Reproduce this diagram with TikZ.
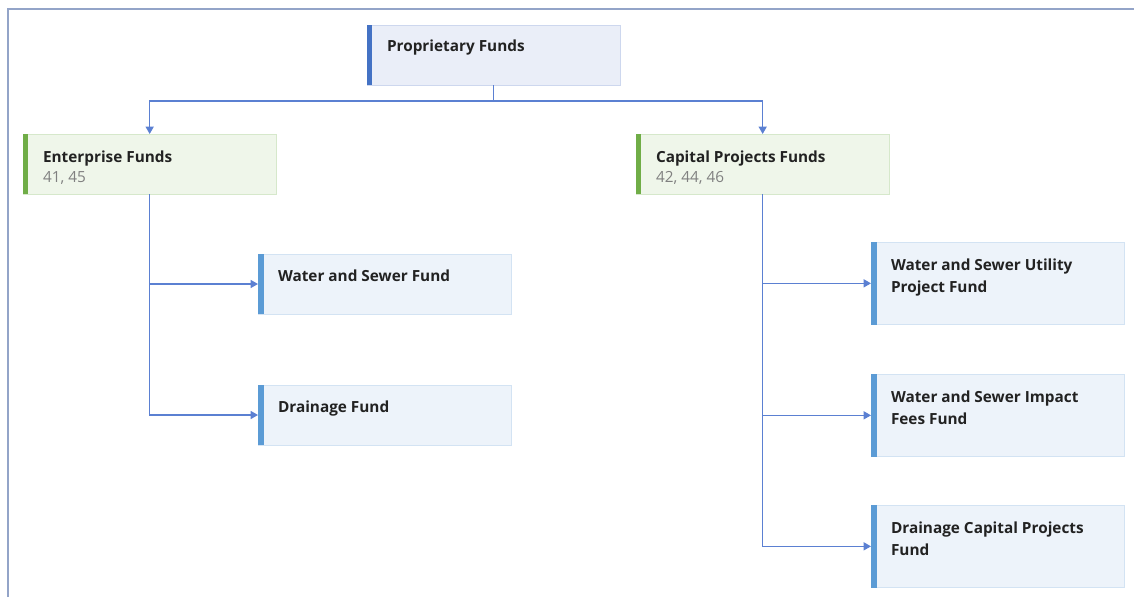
\documentclass[tikz,border=0pt]{standalone}
\usepackage{fontspec}
\setmainfont{Open Sans}
\usetikzlibrary{arrows.meta}
\definecolor{pfill}{HTML}{EAEEF8}
\definecolor{pline}{HTML}{CDD7EE}
\definecolor{pacc}{HTML}{4472C4}
\definecolor{gfill}{HTML}{EFF6EA}
\definecolor{gline}{HTML}{D6E8CB}
\definecolor{gacc}{HTML}{70AD47}
\definecolor{lfill}{HTML}{EDF3FA}
\definecolor{lline}{HTML}{D3E3F3}
\definecolor{lacc}{HTML}{5B9BD5}
\definecolor{conn}{HTML}{5B80D2}
\definecolor{frame}{HTML}{93A4C8}
\definecolor{numgray}{HTML}{808080}
\definecolor{txt}{HTML}{222222}
\newcommand\numtxt{\color{numgray}\mdseries}
\tikzset{
  box/.style={rectangle, inner sep=0pt, outer sep=0pt, line width=0.6pt, minimum width=190pt},
  pbox/.style={box, draw=pline, fill=pfill, minimum height=45pt},
  gbox/.style={box, draw=gline, fill=gfill, minimum height=45pt},
  lbox/.style={box, draw=lline, fill=lfill, minimum height=45pt},
  tbox/.style={box, draw=lline, fill=lfill, minimum height=62pt},
  boxtext/.style={inner sep=0pt, outer sep=0pt, anchor=north west, align=left, text=txt,
    font=\fontsize{11.5}{16.5}\selectfont\bfseries},
  gtext/.style={boxtext, font=\fontsize{11.5}{15}\selectfont\bfseries},
  link/.style={draw=conn, line width=1pt},
  arr/.style={link, -{Triangle[length=5.5pt,width=6pt]}},
}
\begin{document}
\begin{tikzpicture}[x=0.75pt, y=-0.75pt]
\useasboundingbox (0,0) rectangle (1134,597);
% frame
\draw[frame, line width=1.6pt] (8,597) -- (8,9) -- (1134,9);
% boxes
\node[pbox, anchor=north west] (p) at (367,25) {};
\node[gbox, anchor=north west] (ent) at (23,134) {};
\node[gbox, anchor=north west] (cap) at (636,134) {};
\node[lbox, anchor=north west] (ws) at (258,254) {};
\node[lbox, anchor=north west] (dr) at (258,385) {};
\node[tbox, anchor=north west] (wsu) at (871,242) {};
\node[tbox, anchor=north west] (wsi) at (871,374) {};
\node[tbox, anchor=north west] (dcp) at (871,505) {};
% accent bars
\fill[pacc] (p.north west) rectangle ([xshift=4pt]p.south west);
\fill[gacc] (ent.north west) rectangle ([xshift=4pt]ent.south west);
\fill[gacc] (cap.north west) rectangle ([xshift=4pt]cap.south west);
\foreach \n in {ws,dr,wsu,wsi,dcp}
  \fill[lacc] (\n.north west) rectangle ([xshift=4.5pt]\n.south west);
% texts
\node[boxtext] (pt) at ([xshift=15pt,yshift=-11.5pt]p.north west) {Proprietary Funds};
\node[gtext] (entt) at ([xshift=15pt,yshift=-12.3pt]ent.north west) {Enterprise Funds\\{\numtxt 41, 45}};
\node[gtext] (capt) at ([xshift=15pt,yshift=-12.3pt]cap.north west) {Capital Projects Funds\\{\numtxt 42, 44, 46}};
\node[boxtext] (wst) at ([xshift=15pt,yshift=-11.7pt]ws.north west) {Water and Sewer Fund};
\node[boxtext] (drt) at ([xshift=15pt,yshift=-11.7pt]dr.north west) {Drainage Fund};
\node[boxtext] (wsut) at ([xshift=15pt,yshift=-13pt]wsu.north west) {Water and Sewer Utility\\Project Fund};
\node[boxtext] (wsit) at ([xshift=15pt,yshift=-13pt]wsi.north west) {Water and Sewer Impact\\Fees Fund};
\node[boxtext] (dcpt) at ([xshift=15pt,yshift=-13pt]dcp.north west) {Drainage Capital Projects\\Fund};
% connectors
\coordinate (split) at ([yshift=-12pt]p.south);
\draw[link] (p.south) -- (split);
\draw[arr] (split) -| (ent.north);
\draw[arr] (split) -| (cap.north);
\draw[arr] (ent.south) |- (ws.west);
\draw[arr] (ent.south) |- (dr.west);
\draw[arr] (cap.south) |- (wsu.west);
\draw[arr] (cap.south) |- (wsi.west);
\draw[arr] (cap.south) |- (dcp.west);
\end{tikzpicture}
\end{document}
